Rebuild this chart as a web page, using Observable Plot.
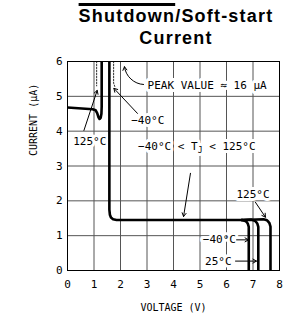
<!DOCTYPE html>
<html>
<head>
<meta charset="utf-8">
<script src="https://cdn.jsdelivr.net/npm/d3@7"></script>
<script src="https://cdn.jsdelivr.net/npm/@observablehq/plot@0.6"></script>
<style>
  body { margin: 0; background: #fff; width: 284px; height: 322px; position: relative; overflow: hidden; }
  #title { position: absolute; left: 70px; top: 5px; width: 212px; text-align: center;
    font-family: "Liberation Sans", Arial, sans-serif; font-weight: bold; font-size: 18px;
    line-height: 22px; letter-spacing: 1.2px; color: #000; }
  #title .ol { text-decoration: overline; text-decoration-thickness: 2.5px; }
  #chart { position: absolute; left: 0; top: 52px; }
  g[aria-label="text"] text { paint-order: stroke; }
</style>
</head>
<body>
<div id="title"><span class="ol">Shutdown</span>/Soft-start<br>Current</div>
<div id="chart"></div>
<script>
// Axis ticks
const xTicks = [0, 1, 2, 3, 4, 5, 6, 7, 8];
const yTicks = [0, 1, 2, 3, 4, 5, 6];

// Common curve (all temperatures), voltage (V) and current (µA); spike peaks at ~16 µA
const commonV = [0, 0.95, 1.06, 1.12, 1.17, 1.21, 1.25, 1.28, 1.29, 1.29, 1.58, 1.58, 1.6, 1.64, 1.72, 1.85, 3, 5, 6.58];
const commonI = [4.68, 4.63, 4.6, 4.52, 4.4, 4.35, 4.38, 4.5, 4.7, 16, 16, 1.75, 1.6, 1.52, 1.47, 1.45, 1.45, 1.45, 1.45];

// Shutdown tails per temperature
const tailM40V = [6.58, 6.71, 6.76, 6.8, 6.84, 6.84];
const tailM40I = [1.45, 1.42, 1.39, 1.35, 1.25, 0];
const tail25V = [6.58, 6.94, 7.07, 7.12, 7.16, 7.2, 7.2];
const tail25I = [1.45, 1.46, 1.43, 1.39, 1.35, 1.25, 0];
const tail125V = [6.58, 7.4, 7.53, 7.58, 7.62, 7.66, 7.66];
const tail125I = [1.45, 1.47, 1.44, 1.4, 1.36, 1.26, 0];

// Dotted spike traces for other temperatures
const dot125V = [1.1, 1.1];
const dot125I = [16, 5.3];
const dotM40V = [1.74, 1.74, 1.79];
const dotM40I = [16, 5.38, 5.27];

// Annotations
const annText = ["PEAK VALUE ≈ 16 µA", "−40°C", "125°C", "−40°C < TJ < 125°C", "125°C", "−40°C", "25°C"];
const annX = [3.02, 3.03, 0.84, 4.88, 7.0, 5.73, 5.69];
const annY = [5.32, 4.31, 3.69, 3.55, 2.18, 0.88, 0.27];
const annAnchor = ["start", "middle", "middle", "middle", "middle", "middle", "middle"];

// Arrows (tail -> head)
const arrX1 = [2.87, 2.64, 0.62, 4.64, 7.09, 6.38, 6.34];
const arrY1 = [5.34, 4.51, 4.02, 2.79, 1.96, 0.88, 0.27];
const arrX2 = [2.15, 1.75, 1.12, 4.38, 7.47, 6.83, 7.13];
const arrY2 = [5.85, 5.23, 5.17, 1.55, 1.53, 0.88, 0.27];
const arrBend = [40, 0, 0, 0, 0, 0, 0];

const toRows = (name, vs, is) => vs.map((v, k) => ({series: name, v, i: is[k]}));
const solid = [
  ...toRows("common", commonV, commonI),
  ...toRows("-40", tailM40V, tailM40I),
  ...toRows("25", tail25V, tail25I),
  ...toRows("125", tail125V, tail125I)
];
const dotted = [...toRows("d125", dot125V, dot125I), ...toRows("dm40", dotM40V, dotM40I)];
const ann = annText.map((t, k) => ({t, x: annX[k], y: annY[k], a: annAnchor[k]}));
const arrows = arrX1.map((x1, k) => ({x1, y1: arrY1[k], x2: arrX2[k], y2: arrY2[k], bend: arrBend[k]}));

const mono = "DejaVu Sans Mono, monospace";
const chart = Plot.plot({
  width: 284, height: 270,
  marginTop: 9, marginLeft: 67, marginRight: 5, marginBottom: 52,
  x: {domain: [0, 8], label: null},
  y: {domain: [0, 6], label: null},
  style: {fontFamily: mono, fontSize: "11px", background: "white", overflow: "visible"},
  marks: [
    Plot.gridX(xTicks.slice(1, -1), {stroke: "#555", strokeOpacity: 1}),
    Plot.gridY(yTicks.slice(1, -1), {stroke: "#555", strokeOpacity: 1}),
    Plot.axisX(xTicks, {tickSize: 0, tickPadding: 10, fontSize: 11}),
    Plot.axisY(yTicks, {tickSize: 0, tickPadding: 5, fontSize: 11}),
    Plot.text(ann.filter(d => d.a === "start"), {x: "x", y: "y", text: "t", textAnchor: "start", fill: "black", stroke: "white", strokeWidth: 6, fontSize: 11}),
    Plot.text(ann.filter(d => d.a === "middle"), {x: "x", y: "y", text: "t", textAnchor: "middle", fill: "black", stroke: "white", strokeWidth: 6, fontSize: 11}),
    Plot.line(dotted, {x: "v", y: "i", z: "series", stroke: "#333", strokeWidth: 1, strokeDasharray: "1.5,1.5", clip: true}),
    Plot.line(solid, {x: "v", y: "i", z: "series", stroke: "black", strokeWidth: 2.6, clip: true}),
    Plot.arrow(arrows.filter(d => d.bend !== 0), {x1: "x1", y1: "y1", x2: "x2", y2: "y2", bend: 40, stroke: "black", strokeWidth: 1, headLength: 6}),
    Plot.arrow(arrows.filter(d => d.bend === 0), {x1: "x1", y1: "y1", x2: "x2", y2: "y2", stroke: "black", strokeWidth: 1, headLength: 6}),
    Plot.frame({stroke: "black"}),
    Plot.text(["VOLTAGE (V)"], {frameAnchor: "bottom", dy: 40, fontSize: 10}),
    Plot.text(["CURRENT (µA)"], {frameAnchor: "left", dx: -34, dy: -10, rotate: -90, fontSize: 10})
  ]
});
document.getElementById("chart").appendChild(chart);

// Subscript J in T_J
d3.select(chart).selectAll("text").each(function() {
  const el = d3.select(this);
  const s = el.text();
  if (s.includes("TJ")) {
    const [a, b] = s.split("TJ");
    el.text(null);
    el.append("tspan").text(a + "T");
    el.append("tspan").attr("dy", 3).attr("font-size", 8).text("J");
    el.append("tspan").attr("dy", -3).text(b);
  }
});
</script>
</body>
</html>
